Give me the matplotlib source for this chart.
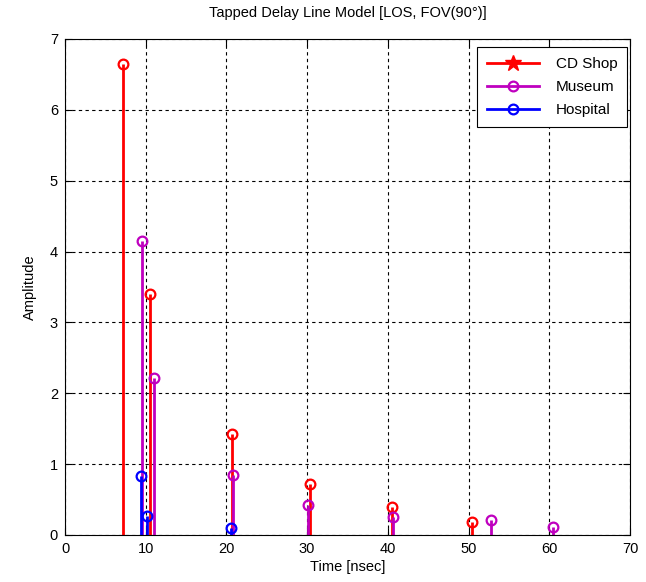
import numpy as np
import matplotlib.pyplot as plt
from matplotlib.lines import Line2D

plt.rcParams['font.family'] = ['Liberation Sans', 'DejaVu Sans']

# tap delays [nsec] and amplitudes per room
cd_t = [7.2, 10.5, 20.7, 30.3, 40.5, 50.4]
cd_a = [6.65, 3.40, 1.42, 0.72, 0.40, 0.19]
mu_t = [9.5, 11.0, 20.8, 30.1, 40.6, 52.8, 60.4]
mu_a = [4.15, 2.22, 0.85, 0.42, 0.25, 0.21, 0.11]
ho_t = [9.4, 10.2, 20.6]
ho_a = [0.83, 0.27, 0.10]

names = ['CD Shop', 'Museum', 'Hospital']
colors = ['#ff0000', '#bf00bf', '#0000ff']

fig = plt.figure(figsize=(6.46, 5.82), dpi=100)
ax = fig.add_axes([65/646, 47/582, 565/646, 496/582])

for t, a, c in zip([cd_t, mu_t, ho_t], [cd_a, mu_a, ho_a], colors):
    ml, sl, bl = ax.stem(t, a, basefmt=' ')
    plt.setp(sl, color=c, linewidth=2)
    plt.setp(ml, color=c, marker='o', markersize=7, markerfacecolor='none',
             markeredgewidth=1.6)

ax.set_xlim(0, 70)
ax.set_ylim(0, 7)
ax.set_xticks(np.arange(0, 71, 10))
ax.set_yticks(np.arange(0, 8, 1))
ax.grid(True, color='black', linestyle=(0, (3, 3)), linewidth=0.8)
ax.tick_params(direction='in', labelsize=10.5, length=5,
               top=True, right=True, pad=5)
ax.set_xlabel('Time [nsec]', fontsize=10.5, labelpad=3)
ax.set_ylabel('Amplitude', fontsize=10.5, labelpad=9)
ax.set_title('Tapped Delay Line Model [LOS, FOV(90°)]', fontsize=10.5, pad=16)

handles = [
    Line2D([], [], color=colors[0], lw=2, marker='*', markersize=12),
    Line2D([], [], color=colors[1], lw=2, marker='o', markersize=7,
           markerfacecolor='none', markeredgewidth=1.6),
    Line2D([], [], color=colors[2], lw=2, marker='o', markersize=7,
           markerfacecolor='none', markeredgewidth=1.6),
]
leg = ax.legend(handles, names, loc='upper right',
                bbox_to_anchor=(0.995, 0.984), borderaxespad=0,
                fontsize=11, fancybox=False, edgecolor='black', framealpha=1,
                handlelength=3.4, handletextpad=1.1,
                labelspacing=0.6, borderpad=0.65)
leg.get_frame().set_linewidth(0.8)

fig.savefig('out.png', dpi=100)
